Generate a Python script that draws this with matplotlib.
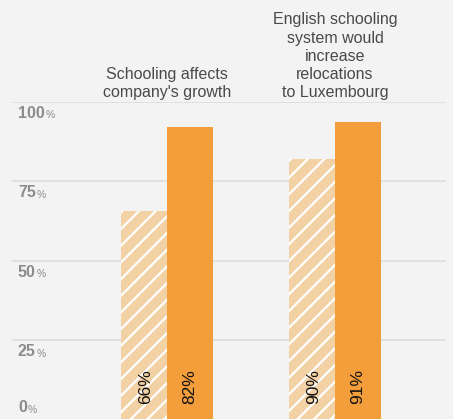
import matplotlib
matplotlib.use("Agg")
import matplotlib.pyplot as plt
import numpy as np
from matplotlib.transforms import blended_transform_factory

categories = ["Schooling affects\ncompany's growth",
              "English schooling\nsystem would\nincrease\nrelocations\nto Luxembourg"]
hatched_values = [65.5, 82]
solid_values = [92, 93.5]
hatched_labels = ["66%", "90%"]
solid_labels = ["82%", "91%"]
y_ticks = [0, 25, 50, 75, 100]

BG = "#f3f3f3"
ORANGE = "#f39d3b"
LIGHT = "#f2d2a4"
GRID = "#dddddd"

plt.rcParams['hatch.linewidth'] = 1.6
plt.rcParams['font.family'] = ['Liberation Sans', 'DejaVu Sans']

fig = plt.figure(figsize=(4.53, 4.19), dpi=100, facecolor=BG)
ax = fig.add_axes([12/453, -0.6/419, 434/453, 317.9/419])
ax.set_facecolor(BG)
for s in ax.spines.values():
    s.set_visible(False)

x = np.arange(len(categories))
w = 46/168
ax.set_xlim(-155/168, 1 + 111/168)
ax.set_ylim(0, 100)

for yt in y_ticks[1:]:
    ax.axhline(yt, color=GRID, lw=1.2, zorder=0)

ax.bar(x - w/2, hatched_values, width=w, color=LIGHT, edgecolor="white",
       linewidth=0, hatch="//", zorder=2)
ax.bar(x + w/2, solid_values, width=w, color=ORANGE, linewidth=0, zorder=2)

for xi, lab in zip(x - w/2, hatched_labels):
    ax.annotate(lab, xy=(xi, 0), xytext=(1.5, 11), textcoords="offset points",
                rotation=90, ha="center", va="bottom", fontsize=12.5,
                color="#111111", zorder=3)
for xi, lab in zip(x + w/2, solid_labels):
    ax.annotate(lab, xy=(xi, 0), xytext=(0, 11), textcoords="offset points",
                rotation=90, ha="center", va="bottom", fontsize=12.5,
                color="#111111", zorder=3)

for xi, cat in zip(x, categories):
    ax.annotate(cat, xy=(xi, 100), xytext=(0, 1), textcoords="offset points",
                ha="center", va="bottom", fontsize=11.5, color="#4a4a4a",
                linespacing=1.27, annotation_clip=False)

ax.set_xticks([])
ax.set_yticks([])

tr = blended_transform_factory(ax.transAxes, ax.transData)
for yt in y_ticks:
    t = ax.annotate(str(yt), xy=(6/434, yt), xycoords=tr,
                    xytext=(0, -3 if yt > 0 else 3), textcoords="offset points",
                    ha="left", va="top" if yt > 0 else "bottom",
                    fontsize=11.5, fontweight="bold", color="#8c8c8c",
                    annotation_clip=False)
    ax.annotate("%", xy=(1, 0), xycoords=t, xytext=(0.6, 0.3),
                textcoords="offset points", ha="left", va="bottom",
                fontsize=7.5, color="#8c8c8c", annotation_clip=False)

fig.savefig("out.png", dpi=100, facecolor=BG)
